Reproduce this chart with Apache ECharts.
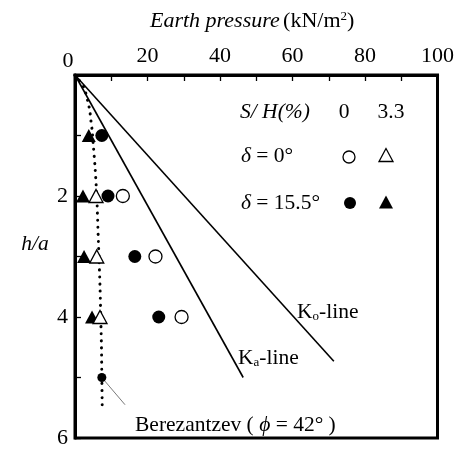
<!DOCTYPE html>
<html><head><meta charset="utf-8">
<script src="https://cdn.jsdelivr.net/npm/echarts@6/dist/echarts.min.js"></script>
<style>html,body{margin:0;padding:0;background:#fff}#c{width:457px;height:449px}</style>
</head><body><div id="c"></div>
<script>
// ---- data ----
const xTicks = [0, 20, 40, 60, 80, 100];
const yTicks = [2, 4, 6];
const depthH = [1, 2, 3, 4];
const filledCircleP = [7.4, 9.1, 16.5, 23.1];      // delta=15.5, S/H=0
const openCircleH = [2, 3, 4];
const openCircleP = [13.2, 22.2, 29.4];            // delta=0, S/H=0
const filledTriP = [3.8, 2.2, 2.5, 4.7];           // delta=15.5, S/H=3.3
const openTriH = [2, 3, 4];
const openTriP = [5.8, 6.0, 6.9];                  // delta=0, S/H=3.3
const koH = [0, 4.73], koP = [0, 71.4];
const kaH = [0, 5.0], kaP = [0, 46.4];
const berH = [0, 0.2, 0.45, 0.6, 0.76, 0.9, 1.2, 1.5, 2, 2.5, 3, 3.5, 4, 4.5, 5, 5.45];
const berP = [0, 2.4, 3.6, 4.1, 4.4, 4.7, 5.1, 5.5, 6.0, 6.3, 6.6, 6.9, 7.1, 7.3, 7.4, 7.5];
const berPointH = [5.0], berPointP = [7.4];
const pointerH = [5.0, 5.45], pointerP = [7.4, 13.8];

const zip = (xs, ys) => xs.map((x, i) => [x, ys[i]]);
const F = '"Liberation Serif", "Times New Roman", serif';
const FS = 21.5;

const chart = echarts.init(document.getElementById('c'), null, {renderer: 'canvas'});
const sym = (name, size, fill) => ({
  type: 'scatter', symbol: name, symbolSize: size, z: 5,
  itemStyle: {color: fill ? '#000' : '#fff', borderColor: '#000', borderWidth: fill ? 0 : 1.3, opacity: 1},
  emphasis: {disabled: true}
});

chart.setOption({
  animation: false,
  backgroundColor: '#fff',
  grid: {left: 75, right: 18, top: 75, bottom: 4, show: true, borderColor: '#000', borderWidth: 3, backgroundColor: 'transparent'},
  xAxis: {
    type: 'value', position: 'top', min: 0, max: 100, interval: 10,
    axisLine: {show: true, lineStyle: {color: '#000', width: 3}},
    axisTick: {show: true, inside: true, length: 6, lineStyle: {color: '#000', width: 1.3}},
    splitLine: {show: false},
    axisLabel: {margin: 8, color: '#000', fontFamily: F, fontSize: 22,
      formatter: v => (xTicks.indexOf(v) > 0 ? String(v) : '')}
  },
  yAxis: {
    type: 'value', inverse: true, min: 0, max: 6, interval: 1,
    axisLine: {show: true, lineStyle: {color: '#000', width: 3}},
    axisTick: {show: true, inside: true, length: 6, lineStyle: {color: '#000', width: 1.3}},
    splitLine: {show: false},
    axisLabel: {margin: 7, color: '#000', fontFamily: F, fontSize: 22,
      formatter: v => (yTicks.indexOf(v) >= 0 ? String(v) : '')}
  },
  series: [
    {type: 'line', data: zip(koP, koH), symbol: 'none', lineStyle: {color: '#000', width: 1.6}, z: 2},
    {type: 'line', data: zip(kaP, kaH), symbol: 'none', lineStyle: {color: '#000', width: 1.6}, z: 2},
    {type: 'line', data: zip(berP, berH), symbol: 'none', smooth: 0.3,
      lineStyle: {color: '#000', width: 3, type: [0.1, 7], cap: 'round'}, z: 2},
    {type: 'line', data: zip(pointerP, pointerH), symbol: 'none', lineStyle: {color: '#555', width: 0.8}, z: 2},
    Object.assign(sym('circle', 9, true), {data: zip(berPointP, berPointH)}),
    Object.assign(sym('circle', 13, true), {data: zip(filledCircleP, depthH)}),
    Object.assign(sym('circle', 13, false), {data: zip(openCircleP, openCircleH)}),
    Object.assign(sym('triangle', [14, 13], true), {data: zip(filledTriP, depthH)}),
    Object.assign(sym('triangle', [14, 13], false), {data: zip(openTriP, openTriH)})
  ],
  graphic: [
    {type: 'text', x: 150, y: 21, style: {
      text: '{i|Earth pressure} {n|(kN/m}{s|2}{n|)}', verticalAlign: 'middle',
      rich: {i: {fontFamily: F, fontSize: 22, fontStyle: 'italic', fill: '#000'},
             n: {fontFamily: F, fontSize: 22, fill: '#000'},
             s: {fontFamily: F, fontSize: 13, fill: '#000', verticalAlign: 'top', padding: [0, 0, 9, 0]}}}},
    {type: 'text', x: 68, y: 61, style: {text: '0', fontFamily: F, fontSize: 22, fill: '#000', align: 'center', verticalAlign: 'middle'}},
    {type: 'text', x: 35, y: 244, style: {text: 'h/a', fontFamily: F, fontSize: FS, fontStyle: 'italic', fill: '#000', align: 'center', verticalAlign: 'middle'}},
    // legend table
    {type: 'text', x: 240, y: 112, style: {text: 'S/ H(%)', fontFamily: F, fontSize: FS, fontStyle: 'italic', fill: '#000', verticalAlign: 'middle'}},
    {type: 'text', x: 344, y: 112, style: {text: '0', fontFamily: F, fontSize: FS, fill: '#000', align: 'center', verticalAlign: 'middle'}},
    {type: 'text', x: 391, y: 112, style: {text: '3.3', fontFamily: F, fontSize: FS, fill: '#000', align: 'center', verticalAlign: 'middle'}},
    {type: 'text', x: 241, y: 156, style: {text: '{i|δ} = 0°', fontFamily: F, fontSize: FS, fill: '#000', verticalAlign: 'middle',
      rich: {i: {fontFamily: F, fontSize: FS, fontStyle: 'italic', fill: '#000'}}}},
    {type: 'text', x: 241, y: 203, style: {text: '{i|δ} = 15.5°', fontFamily: F, fontSize: FS, fill: '#000', verticalAlign: 'middle',
      rich: {i: {fontFamily: F, fontSize: FS, fontStyle: 'italic', fill: '#000'}}}},
    {type: 'circle', shape: {cx: 349, cy: 157, r: 6}, style: {fill: '#fff', stroke: '#000', lineWidth: 1.3}},
    {type: 'polygon', shape: {points: [[386, 148.5], [379, 161.5], [393, 161.5]]}, style: {fill: '#fff', stroke: '#000', lineWidth: 1.3}},
    {type: 'circle', shape: {cx: 350, cy: 203, r: 6}, style: {fill: '#000'}},
    {type: 'polygon', shape: {points: [[386, 195.5], [379, 208.5], [393, 208.5]]}, style: {fill: '#000'}},
    // line labels
    {type: 'text', x: 297, y: 312, style: {text: 'K{sub|o}-line', fontFamily: F, fontSize: FS, fill: '#000', verticalAlign: 'middle',
      rich: {sub: {fontFamily: F, fontSize: 13, fill: '#000', verticalAlign: 'bottom', padding: [9, 0, 0, 0]}}}},
    {type: 'text', x: 238, y: 358, style: {text: 'K{sub|a}-line', fontFamily: F, fontSize: FS, fill: '#000', verticalAlign: 'middle',
      rich: {sub: {fontFamily: F, fontSize: 13, fill: '#000', verticalAlign: 'bottom', padding: [9, 0, 0, 0]}}}},
    {type: 'text', x: 135, y: 425, style: {text: 'Berezantzev ( {i|ϕ} = 42° )', fontFamily: F, fontSize: FS, fill: '#000', verticalAlign: 'middle',
      rich: {i: {fontFamily: F, fontSize: FS, fontStyle: 'italic', fill: '#000'}}}}
  ]
});
</script></body></html>
